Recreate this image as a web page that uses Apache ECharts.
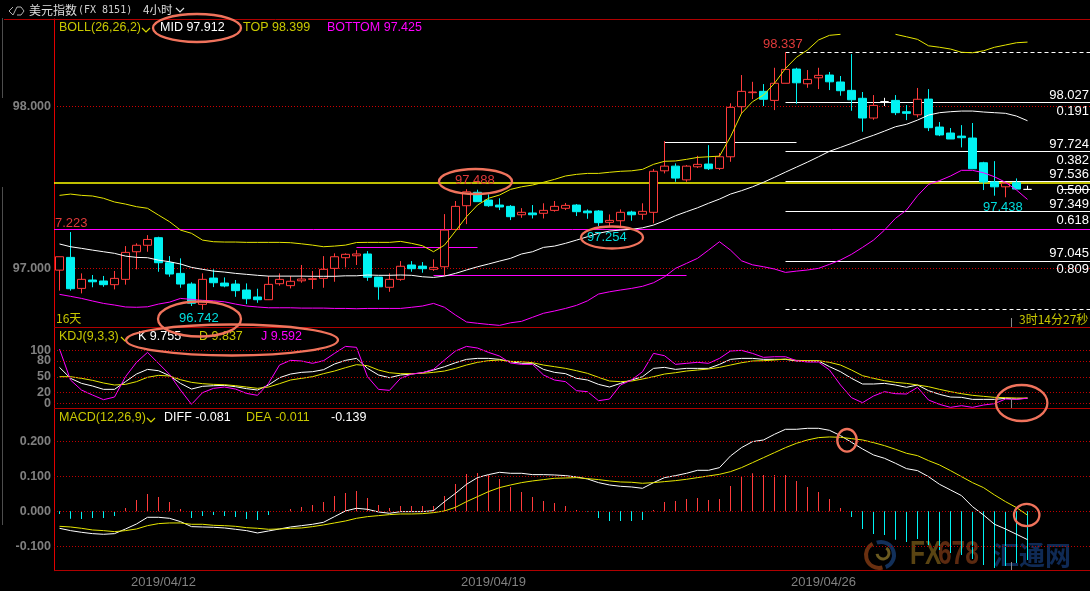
<!DOCTYPE html>
<html>
<head>
<meta charset="utf-8">
<style>html,body{margin:0;padding:0;background:#000;overflow:hidden}#c{width:1090px;height:591px}</style>
<script src="https://cdn.jsdelivr.net/npm/echarts@6/dist/echarts.min.js"></script>
</head>
<body>
<div id="c"></div>
<script>
// [open, close, low, high]
const candles = [
[96.987,97.070,96.860,97.070],[97.066,96.872,96.860,97.223],[96.874,96.930,96.843,96.967],[96.926,96.915,96.881,96.957],[96.920,96.897,96.884,96.951],
[96.897,96.936,96.868,96.982],[96.930,97.097,96.897,97.136],[97.101,97.141,96.992,97.153],[97.141,97.177,97.101,97.204],[97.188,97.033,96.977,97.194],
[97.033,96.963,96.946,97.074],[96.967,96.901,96.878,97.060],[96.901,96.782,96.765,96.912],[96.775,96.930,96.742,96.967],[96.938,96.909,96.882,96.992],
[96.907,96.889,96.881,96.942],[96.901,96.860,96.822,96.926],[96.864,96.810,96.777,96.905],[96.821,96.804,96.785,96.872],[96.804,96.899,96.802,96.951],
[96.903,96.930,96.891,96.967],[96.891,96.918,96.874,96.951],[96.921,96.932,96.909,97.019],[96.930,96.934,96.870,96.982],[96.936,96.992,96.878,97.074],
[96.998,97.070,96.915,97.091],[97.064,97.085,97.004,97.091],[97.076,97.087,97.019,97.111],[97.087,96.943,96.921,97.105],[96.944,96.884,96.804,96.944],
[96.881,96.930,96.853,96.967],[96.930,97.011,96.921,97.043],[97.019,96.996,96.977,97.043],[97.012,96.996,96.971,97.037],[96.992,97.004,96.982,97.054],
[97.008,97.235,96.952,97.334],[97.239,97.382,97.239,97.415],[97.386,97.472,97.272,97.488],[97.469,97.411,97.411,97.485],[97.421,97.386,97.379,97.456],
[97.390,97.378,97.359,97.432],[97.382,97.318,97.297,97.390],[97.330,97.345,97.311,97.371],[97.341,97.330,97.307,97.390],[97.339,97.357,97.307,97.401],
[97.357,97.382,97.349,97.415],[97.370,97.388,97.359,97.403],[97.390,97.349,97.322,97.396],[97.353,97.342,97.305,97.363],[97.353,97.281,97.260,97.359],
[97.283,97.295,97.254,97.332],[97.293,97.345,97.260,97.363],[97.347,97.330,97.293,97.355],[97.333,97.351,97.299,97.401],[97.345,97.599,97.277,97.613],
[97.602,97.631,97.586,97.786],[97.631,97.557,97.534,97.648],[97.546,97.631,97.534,97.638],[97.627,97.642,97.619,97.695],[97.644,97.615,97.607,97.761],
[97.617,97.689,97.607,97.712],[97.689,97.995,97.658,98.020],[97.999,98.094,97.954,98.195],[98.086,98.090,98.046,98.153],[98.094,98.045,98.003,98.139],
[98.038,98.144,97.978,98.240],[98.144,98.230,98.144,98.337],[98.232,98.147,98.017,98.240],[98.141,98.168,98.116,98.226],[98.178,98.193,98.108,98.240],
[98.195,98.153,98.102,98.214],[98.152,98.098,98.067,98.189],[98.100,98.042,97.974,98.325],[98.051,97.929,97.844,98.090],[97.929,98.007,97.918,98.071],
[98.030,98.030,98.003,98.054],[98.038,97.962,97.947,98.071],[97.968,97.958,97.916,98.009],[97.949,98.045,97.933,98.115],[98.046,97.869,97.848,98.108],
[97.873,97.824,97.817,97.904],[97.836,97.799,97.799,97.867],[97.817,97.807,97.747,97.885],[97.805,97.615,97.615,97.898],[97.652,97.533,97.483,97.658],
[97.533,97.503,97.448,97.662],[97.503,97.525,97.438,97.527],[97.528,97.489,97.489,97.555],[97.487,97.487,97.487,97.510]
];
const bollTop = [97.450,97.458,97.450,97.446,97.432,97.409,97.396,97.380,97.370,97.328,97.287,97.235,97.215,97.173,97.163,97.161,97.161,97.159,97.159,97.159,97.159,97.157,97.150,97.142,97.132,97.136,97.142,97.158,97.159,97.159,97.159,97.165,97.153,97.138,97.101,97.142,97.229,97.318,97.390,97.432,97.452,97.487,97.503,97.514,97.531,97.549,97.570,97.580,97.586,97.586,97.593,97.599,97.602,97.611,97.642,97.661,97.663,97.673,97.685,97.689,97.693,97.813,97.958,98.030,98.071,98.144,98.236,98.305,98.350,98.412,98.441,98.447,null,null,null,null,98.447,98.432,98.416,98.376,98.367,98.356,98.336,98.333,98.345,98.367,98.381,98.395,98.399];
const bollMid = [97.149,97.132,97.122,97.111,97.101,97.091,97.074,97.066,97.064,97.049,97.039,97.025,97.004,96.992,96.981,96.975,96.967,96.961,96.955,96.950,96.950,96.950,96.950,96.949,96.949,96.949,96.952,96.952,96.957,96.955,96.955,96.957,96.955,96.946,96.942,96.950,96.967,96.988,97.008,97.025,97.043,97.060,97.087,97.101,97.128,97.136,97.153,97.173,97.194,97.215,97.229,97.235,97.240,97.249,97.266,97.293,97.324,97.349,97.373,97.401,97.427,97.458,97.479,97.503,97.531,97.562,97.594,97.625,97.656,97.689,97.723,97.747,97.772,97.799,97.822,97.848,97.875,97.890,97.916,97.947,97.962,97.968,97.972,97.972,97.966,97.962,97.958,97.941,97.912];
const bollBottom = [96.837,96.825,96.812,96.796,96.781,96.771,96.759,96.757,96.760,96.777,96.789,96.812,96.806,96.800,96.797,96.791,96.777,96.765,96.759,96.754,96.754,96.754,96.752,96.752,96.752,96.750,96.750,96.748,96.750,96.750,96.750,96.750,96.757,96.765,96.781,96.757,96.709,96.666,96.658,96.651,96.645,96.661,96.670,96.695,96.720,96.734,96.750,96.769,96.797,96.839,96.853,96.864,96.874,96.887,96.909,96.946,96.998,97.029,97.060,97.111,97.163,97.111,97.045,97.020,97.008,96.994,96.973,96.981,96.988,96.998,97.023,97.050,97.085,97.128,97.173,97.235,97.308,97.359,97.448,97.518,97.541,97.570,97.605,97.605,97.590,97.565,97.531,97.483,97.425];
const kdjK = [67.8,47.1,37.6,32.6,26.3,26.3,40.8,55.2,64,61.5,52.1,37.6,26.9,32,33.2,33.8,31.3,27.6,25,34.5,48.3,55.2,58.4,59.6,63.4,74.1,81,84.8,65.9,53.4,48.3,53.4,55.2,57.7,62.8,69.1,76.6,82.9,84.8,84.8,82.9,78.5,75.4,75.4,64,58.4,55.9,47.1,43.9,35.7,30.7,37.6,43.9,50.2,65.9,67.8,64,65.9,65.9,65.9,73.5,82.9,84.8,84.8,82.9,82.9,82.9,79.8,79.8,79.8,69.1,59.6,47.1,36.4,36.4,37.6,34.5,30.1,34.5,23.8,16.9,11.8,11.2,7.4,7.4,7.4,9.3,8,9.755];
const kdjD = [50.2,50.2,47.1,43.3,38.3,34.5,35.7,40.8,49,52.7,51.5,44.5,39.5,37,35.7,35.1,33.2,30.7,28.2,30.7,37,43.9,47.1,50.2,55.9,60.9,67.2,72.9,71,62.8,57.7,55.9,55.9,56.5,58.4,60.9,65.9,72.2,77.3,80.4,81.7,79.1,78.5,76.6,72.2,69.1,65.9,61.5,56.5,49,42,40.8,42,45.8,50.2,55.2,57.7,60.9,62.8,64.7,67.8,72.2,76.6,79.8,80.4,81.7,83.5,81,80.4,80.4,77.3,72.2,62.8,52.1,47.1,42.7,39.5,37.6,34.5,31.3,26.3,21.9,18.1,15,13.1,11.2,10.6,9.9,9.837];
const kdjJ = [102.4,43.9,25,15.6,6.8,11.8,50.2,77.3,96.1,75.4,54.6,25,-2,20,28.2,30.7,26.9,18.7,15,37.6,72.2,81,79.8,75.4,80.4,94.2,107.4,105.6,50.2,26.3,24.4,47.1,55.2,57.7,64,81.7,98.7,107.4,104.3,96.1,89.2,76,73.5,73.5,53.4,43.9,40.8,23.8,21.9,4.9,8,34.5,43.9,59.6,94.2,89.8,73.5,75.4,77.3,75.4,84.8,98.7,99.9,94.2,86.7,87.9,87.9,80.4,77.9,77.9,62.8,34.5,10.6,1.1,13.7,21.9,18.1,17.5,30.1,6.2,-2,-7.7,-4.5,-7.7,-3.3,-0.7,8,7.4,9.592];
const macdDiff = [-.0486,-.0552,-.06,-.0638,-.0657,-.0638,-.0505,-.0362,-.0171,-.0171,-.02,-.0295,-.0438,-.0448,-.0457,-.0476,-.0514,-.0552,-.0619,-.0562,-.0505,-.0448,-.041,-.0371,-.0314,-.0152,.001,.0086,.0057,-.0019,-.0057,-.001,-.001,-.001,.0019,.0276,.0514,.0771,.0962,.1048,.1114,.1086,.1086,.1048,.1048,.1038,.1019,.0981,.0924,.0819,.0752,.0714,.0695,.0657,.0819,.0962,.1019,.1086,.1171,.1171,.1248,.1581,.1819,.199,.2038,.22,.2343,.2343,.2371,.2371,.2314,.2162,.1971,.1781,.161,.1514,.1371,.1219,.1162,.099,.0771,.061,.0448,.0133,-.0105,-.0371,-.0505,-.0657,-.081];
const macdDea = [-.0429,-.0448,-.0486,-.0533,-.0552,-.0581,-.0552,-.0505,-.041,-.0352,-.0333,-.0333,-.0371,-.0371,-.04,-.041,-.0429,-.0467,-.0486,-.0514,-.0505,-.0486,-.0476,-.0438,-.039,-.0333,-.0276,-.02,-.0152,-.0124,-.0095,-.0076,-.0076,-.0067,-.0038,.001,.0114,.0276,.0419,.0562,.0676,.0752,.0819,.0867,.0905,.0943,.0952,.0962,.0933,.0905,.0867,.0838,.0829,.08,.0819,.0848,.0876,.0914,.0962,.101,.1057,.1133,.1248,.139,.1533,.1676,.1819,.1943,.2038,.2105,.2124,.2114,.2076,.2038,.1962,.1876,.1771,.1657,.159,.1448,.1324,.1162,.099,.0819,.0676,.0467,.0276,.0105,-.011];
const macdHist = [-.0076,-.021,-.0219,-.019,-.019,-.0133,.0095,.0324,.0495,.041,.0267,.0067,-.019,-.0133,-.0105,-.0133,-.0162,-.0219,-.0248,-.0105,0,.0067,.0124,.0181,.0267,.0438,.0524,.0581,.0381,.0181,.0095,.0152,.0152,.0152,.0152,.0438,.0781,.1067,.1095,.1038,.0924,.0695,.0552,.041,.0295,.0238,.0152,.0038,-.001,-.019,-.0276,-.0276,-.0276,-.0248,.0038,.0267,.0295,.0352,.0381,.0324,.0352,.0724,.1010,.1086,.1038,.1038,.1038,.0867,.0695,.0552,.0352,.0095,-.0162,-.0505,-.0648,-.0676,-.081,-.0876,-.079,-.0962,-.1105,-.119,-.1248,-.1362,-.1533,-.1619,-.1562,-.1476,-.139];

const tickIndex = [6,36,66];
const tickLabels = ['2019/04/12','2019/04/19','2019/04/26'];
const slotCount = 95;
const categories = Array.from({length:slotCount},(_,i)=>{const k=tickIndex.indexOf(i);return k<0?'':tickLabels[k];});

const priceTicks = [97,98];
const kdjTicks = [0,20,50,80,100];
const macdTicks = [-0.1,0,0.1,0.2];

const fibStart = 66, fibEnd = 94;
const fibSolid = [98.027,97.724,97.536,97.349,97.045];
const fibDashed = [98.337,96.742];
const fullLines = [{v:97.5297,c:'#ffff00',w:1.5},{v:97.2387,c:'#ff00ff',w:1}];
const shortLines = [{a:55,b:67,v:97.7773,c:'#ffffff'},{a:27,b:38,v:97.1272,c:'#ff00ff'},{a:34,b:57,v:96.9539,c:'#ff00ff'},{a:91,b:94,v:97.487,c:'#ffffff'}];

const RED='#ff3b3b', CYAN='#00f2f2', YEL='#e8e800', MAG='#ff00ff', GRID='#b00000';
const SALMON='#f0735c';
const LATIN='"Liberation Sans",Arial,sans-serif', CJK='"Noto Sans CJK SC",sans-serif';

function lineSeries(name,data,color,xi,yi,extra){
  return Object.assign({name,type:'line',data,xAxisIndex:xi,yAxisIndex:yi,symbol:'none',showSymbol:false,
    lineStyle:{color,width:1},itemStyle:{color},silent:true,connectNulls:false,z:4,animation:false},extra||{});
}
function dotted(vals,labelled){
  return {silent:true,symbol:'none',animation:false,
    label:labelled?{show:true,position:'start',formatter:p=>String(p.value),color:'#808080',fontFamily:LATIN,fontSize:12.5,fontWeight:'bold',distance:3}:{show:false},
    lineStyle:{color:'#c00000',type:[1,2],width:1},data:vals.map(v=>({yAxis:v}))};
}
const guideData = [
  ...priceTicks.map(v=>({yAxis:v,lineStyle:{color:'#d00000',type:[1,2],width:1}})),
  ...fullLines.map(l=>({yAxis:l.v,lineStyle:{color:l.c,width:l.w,type:'solid'}})),
  ...fibSolid.map(v=>[{coord:[fibStart,v],lineStyle:{color:'#fff',width:1,type:'solid'}},{coord:[fibEnd,v]}]),
  ...fibDashed.map(v=>[{coord:[fibStart,v],lineStyle:{color:'#fff',width:1,type:[4,3]}},{coord:[fibEnd,v]}]),
  ...shortLines.map(l=>[{coord:[l.a,l.v],lineStyle:{color:l.c,width:1,type:'solid'}},{coord:[l.b,l.v]}])
];

function yAxisOf(gi,min,max,ticks,fmt){
  return {gridIndex:gi,type:'value',min,max,position:'left',scale:true,
    axisLine:{show:true,onZero:false,lineStyle:{color:'#e00000',width:1}},
    axisTick:{show:false},splitLine:{show:false},
    axisLabel:ticks?{show:true,customValues:ticks,formatter:fmt,color:'#808080',fontFamily:LATIN,fontSize:12.5,fontWeight:'bold',margin:3}:{show:false}};
}
function xAxisOf(gi,showLabel){
  return {gridIndex:gi,type:'category',data:categories,boundaryGap:true,
    axisLine:{show:false},axisTick:{show:false},splitLine:{show:false},
    axisLabel:{show:showLabel,interval:0,color:'#808080',fontFamily:LATIN,fontSize:13,align:'left',padding:[0,0,0,5.5],margin:5}};
}
function txt(text,x,y,fill,size,opt){
  return Object.assign({type:'text',z:20,silent:true,style:Object.assign({text,x,y,fill,fontFamily:LATIN,fontSize:size||12.5,textVerticalAlign:'middle',verticalAlign:'middle',align:'left'},opt||{})});
}
function rule(x1,y1,x2,y2,stroke,w,z){
  return {type:'line',z:z==null?6:z,silent:true,shape:{x1,y1,x2,y2},style:{stroke,lineWidth:w||1}};
}
function chevron(x,y,c){
  return {type:'polyline',z:20,silent:true,shape:{points:[[x,y],[x+4,y+4],[x+8,y]]},style:{stroke:c,fill:'none',lineWidth:1.2}};
}
function oval(cx,cy,rx,ry){
  return {type:'ellipse',z:30,silent:true,shape:{cx,cy,rx,ry},style:{stroke:SALMON,fill:'none',lineWidth:2.3}};
}

const rightLabels = [['98.027',95],['0.191',111],['97.724',144],['0.382',160],['97.536',174],['0.500',190],['97.349',204],['0.618',220],['97.045',253],['0.809',269]];

const graphics = [
  // watermark
  {type:'arc',z:0,silent:true,shape:{cx:881,cy:555,r:13,startAngle:-1.9,endAngle:1.2},style:{stroke:'#12305a',fill:'none',lineWidth:4}},
  {type:'arc',z:0,silent:true,shape:{cx:879,cy:555,r:13,startAngle:1.3,endAngle:4.2},style:{stroke:'#6a3010',fill:'none',lineWidth:4}},
  {type:'arc',z:0,silent:true,shape:{cx:883,cy:553,r:6,startAngle:-1,endAngle:3},style:{stroke:'#6b5a20',fill:'none',lineWidth:3}},
  {type:'text',z:0,silent:true,x:910,y:555,scaleX:0.72,style:{text:'FX',fill:'#5a4412',fontFamily:LATIN,fontWeight:'bold',fontSize:34,verticalAlign:'middle'}},
  {type:'text',z:0,silent:true,x:938,y:555,scaleX:0.72,style:{text:'678',fill:'#5c2a10',fontFamily:LATIN,fontWeight:'bold',fontSize:34,verticalAlign:'middle'}},
  {type:'text',z:0,silent:true,x:993,y:555,style:{text:'汇通网',fill:'#0f2a55',fontFamily:CJK,fontWeight:'bold',fontSize:26,verticalAlign:'middle'}},
  // frame
  rule(4,19.5,1090,19.5,GRID),rule(54,327.5,1090,327.5,GRID),rule(54,408.5,1090,408.5,GRID),rule(54,570.5,1090,570.5,GRID),
  rule(2.5,18,2.5,98,'#4d4d4d'),rule(2.5,187,2.5,525,'#4d4d4d'),
  rule(1011.5,318,1011.5,327,'#8a8a8a'),rule(1011.5,398,1011.5,408,'#8a8a8a'),rule(1011.5,562,1011.5,570,'#8a8a8a'),
  // top title
  {type:'polyline',z:20,silent:true,shape:{points:[[13,7],[9,11],[13,15],[17,7],[21,7],[24,11],[21,15],[17,15]]},style:{stroke:'#b0b0b0',fill:'none',lineWidth:1}},
  txt('美元指数',29,10,'#dddddd',12,{fontFamily:CJK}),
  txt('(FX 8151)',78,10.5,'#cfcfcf',10,{fontFamily:'"DejaVu Sans Mono",monospace'}),
  txt('4小时',143,10,'#dddddd',11.5,{fontFamily:CJK}),
  chevron(176,8,'#dddddd'),
  // BOLL header
  txt('BOLL(26,26,2)',59,28,'#c8c800'),chevron(142,28,'#d8d800'),
  txt('MID 97.912',160,28,'#ffffff'),txt('TOP 98.399',243,28,'#c8c800'),txt('BOTTOM 97.425',327,28,'#ff00ff'),
  // KDJ header
  txt('KDJ(9,3,3)',59,337,'#c8c800'),chevron(121,337,'#d8d800'),
  txt('K 9.755',138,337,'#ffffff'),txt('D 9.837',199,337,'#c8c800'),txt('J 9.592',261,337,'#ff00ff'),
  // MACD header
  txt('MACD(12,26,9)',59,418,'#c8c800'),chevron(147,418,'#d8d800'),
  txt('DIFF -0.081',164,418,'#ffffff'),txt('DEA -0.011',246,418,'#c8c800'),txt('-0.139',331,418,'#ffffff'),
  // price callouts
  txt('98.337',763,44,'#e03a3a',13),txt('97.488',455,180,'#e03a3a',13),txt('97.254',587,237,'#00dede',13),
  txt('96.742',179,318,'#00dede',13),txt('97.438',983,207,'#00dede',13),txt('7.223',55,223,'#e03a3a',13),
  txt('16天',56,318,'#c8c800',12,{fontFamily:CJK}),txt('3时14分27秒',1019,319,'#c8c800',12,{fontFamily:CJK}),
  ...rightLabels.map(([t,y])=>txt(t,1089,y,'#ffffff',13,{align:'right'})),
  // annotation ovals
  oval(197,28,44,14),oval(475.5,181.5,36.5,12.5),oval(612,237.5,31,11),oval(199.5,319,41.5,17.5),oval(232,340,106,15.5),
  oval(1021.7,403,25.7,18),oval(847,440.3,9.7,11.3),oval(1026.7,515,12.7,11.2)
];

const chart = echarts.init(document.getElementById('c'),null,{renderer:'canvas',width:1090,height:591});
chart.setOption({
  backgroundColor:'#000',animation:false,
  tooltip:{show:false},legend:{show:false},
  grid:[
    {left:54,top:19,width:1045,height:308,outerBoundsMode:'none',containLabel:false},
    {left:54,top:327,width:1045,height:81,outerBoundsMode:'none',containLabel:false},
    {left:54,top:408,width:1045,height:162.7,outerBoundsMode:'none',containLabel:false}
  ],
  xAxis:[xAxisOf(0,false),xAxisOf(1,false),xAxisOf(2,true)],
  yAxis:[
    yAxisOf(0,96.635,98.542,priceTicks,v=>v.toFixed(3)),
    yAxisOf(1,-8.9,144,null,null),
    yAxisOf(2,-0.1697,0.2951,macdTicks,v=>v.toFixed(3))
  ],
  graphic:{elements:graphics},
  series:[
    {name:'Price',type:'candlestick',data:candles,xAxisIndex:0,yAxisIndex:0,barWidth:9,silent:true,z:3,animation:false,
      itemStyle:{color:'#000',color0:CYAN,borderColor:RED,borderColor0:CYAN,borderColorDoji:'#ffffff',borderWidth:1}},
    lineSeries('MID',bollMid,'#ffffff',0,0),
    lineSeries('TOP',bollTop,'#e6e600',0,0,{markLine:{silent:true,symbol:'none',animation:false,label:{show:false},z:2,data:guideData}}),
    lineSeries('BOTTOM',bollBottom,MAG,0,0),
    lineSeries('K',kdjK,'#ffffff',1,1,{markLine:dotted(kdjTicks,true)}),
    lineSeries('D',kdjD,'#e6e600',1,1),
    lineSeries('J',kdjJ,MAG,1,1),
    {name:'MACD',type:'bar',data:macdHist,xAxisIndex:2,yAxisIndex:2,barWidth:1,silent:true,z:3,animation:false,
      itemStyle:{color:p=>p.value>=0?RED:CYAN}},
    lineSeries('DIFF',macdDiff,'#ffffff',2,2,{markLine:dotted(macdTicks)}),
    lineSeries('DEA',macdDea,'#e6e600',2,2)
  ]
});
</script>
</body>
</html>
